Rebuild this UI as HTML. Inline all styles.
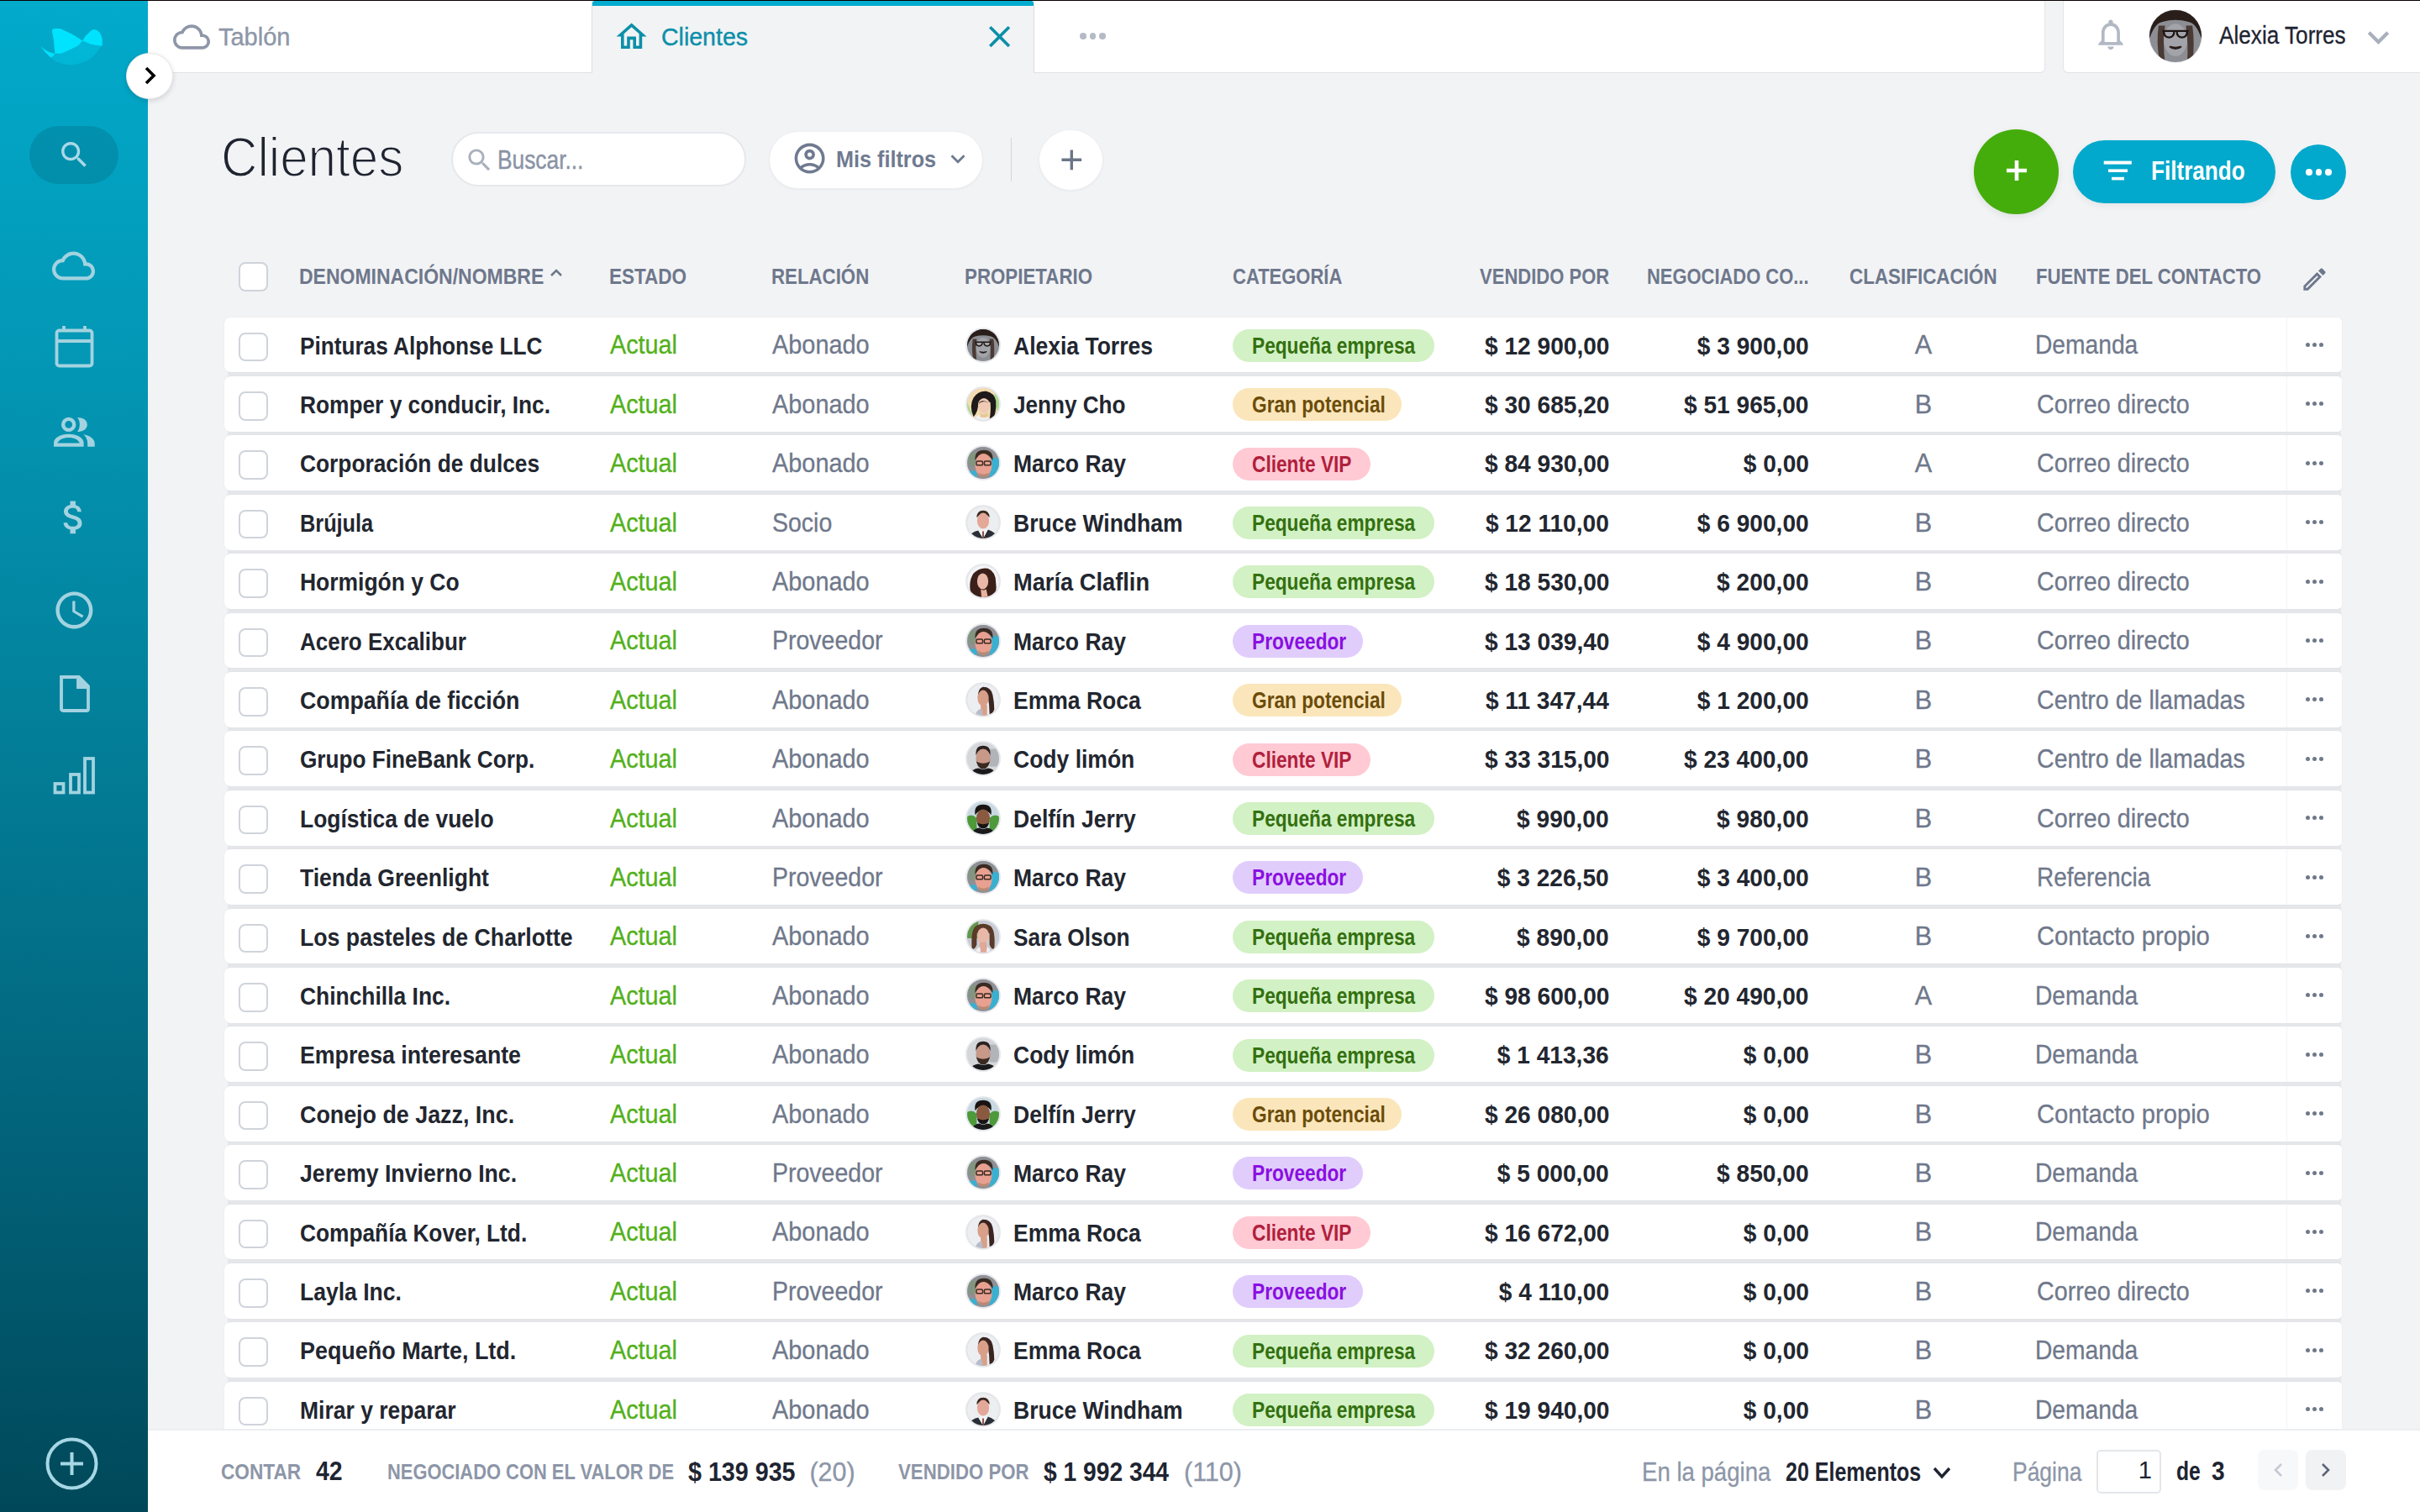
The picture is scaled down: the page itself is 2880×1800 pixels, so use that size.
<!DOCTYPE html>
<html><head><meta charset="utf-8"><title>Clientes</title>
<style>
*{box-sizing:border-box;margin:0;padding:0}
html,body{width:2880px;height:1800px;overflow:hidden}
body{background:#f2f3f5;font-family:"Liberation Sans",sans-serif;position:relative;color:#1e2431}
.a{position:absolute}
.sx{display:inline-block;white-space:nowrap}
#topline{left:0;top:0;width:2880px;height:1px;background:#0a0000;z-index:50}
#side{left:0;top:0;width:176px;height:1800px;background:linear-gradient(180deg,#02aacb 0%,#0396b4 25%,#037d97 50%,#02637a 75%,#004859 100%)}
.sic{position:absolute;left:0;width:176px;display:flex;justify-content:center}
.sic svg{display:block}
#toggle{left:150px;top:62.5px;width:55.5px;height:55.5px;border-radius:50%;background:#fff;border:1px solid #e6e7ea;box-shadow:0 2px 6px rgba(0,0,0,0.14);z-index:20}
/* tabs */
.tabw{background:#fff;border-bottom:1.5px solid #dfe2e6}
#tab1{left:176px;top:1px;width:529px;height:86px}
#tab2{left:704px;top:1px;width:527px;height:86px;background:#f2f3f5;border-left:1.5px solid #dcdde2;border-right:1.5px solid #dcdde2;border-radius:4px 4px 0 0}
#tab2bar{left:705px;top:1px;width:525px;height:6px;background:#02abcf;border-radius:3px 3px 0 0}
#tab3{left:1231px;top:1px;width:1203px;height:86px;border-bottom-right-radius:6px;border-right:1.5px solid #e2e4e8}
#tab4{left:2455px;top:1px;width:425px;height:86px;border-bottom-left-radius:6px;border-left:1.5px solid #e2e4e8}
.tabtxt{font-size:29.8px;line-height:34px;white-space:nowrap;-webkit-text-stroke:0.4px currentColor}
/* title row */
#title{left:263px;top:149px;font-size:66.9px;line-height:76px;color:#1f2430;-webkit-text-stroke:1.8px #f2f3f5;paint-order:normal;letter-spacing:0px}
.pill{background:#fff;border-radius:40px}
#search{left:537px;top:157px;width:351px;height:65px;border:2px solid #e6e8ec}
#mis{left:916px;top:157px;width:253px;height:67px;box-shadow:0 1px 4px rgba(30,40,60,0.06)}
#sep{left:1202.5px;top:164px;width:1.5px;height:52px;background:#d3d6dc}
#plus{left:1236.5px;top:155px;width:75px;height:71px;border-radius:50%;background:#fff;box-shadow:0 1px 4px rgba(30,40,60,0.06)}
#green{left:2349px;top:154px;width:101px;height:101px;border-radius:50%;background:#44ad0b;box-shadow:0 3px 8px rgba(0,0,0,0.08)}
#filt{left:2467px;top:167px;width:241px;height:75px;border-radius:38px;background:#02a9cc;box-shadow:0 3px 8px rgba(0,0,0,0.06)}
#more{left:2726px;top:172px;width:66px;height:66px;border-radius:50%;background:#02a9cc}
/* table header */
.hd{position:absolute;top:317.3px;font-size:26.2px;font-weight:700;color:#6e788c;line-height:24px;white-space:nowrap}
.cb{position:absolute;width:34.5px;height:34.5px;border:2px solid #cfd4db;border-radius:8px;background:#fff}
#tbg{left:271px;top:390px;width:2515px;height:1320px;background:#e5e7ea;border-radius:0 0 4px 0}
.row{position:absolute;left:267px;width:2520px;height:65.8px;background:#fff;border-radius:8px 5px 5px 8px;box-shadow:0 0 3px rgba(40,50,70,0.035)}
.c{position:absolute;top:1px;height:65.8px;line-height:65.8px;font-size:30.2px;white-space:nowrap}
.reg{font-size:30.7px;top:0.8px;-webkit-text-stroke:0.3px currentColor}
.name{font-weight:700;color:#22262f}
.actual{color:#52b01a}
.gray{color:#6f788b}
.num{font-weight:700;color:#22262f}
.ctr{text-align:center}
.av{position:absolute;top:12px;width:42px;height:42px;border-radius:50%;overflow:hidden;border:2px solid #e6e8ec;background:#ccc}
.av svg{width:100%;height:100%;display:block}
.tag{position:absolute;top:14.3px;height:39px;border-radius:20px;padding:0 23px;font-size:27px;font-weight:700;line-height:40.5px;white-space:nowrap}
.tag span{display:inline-block;transform-origin:left}
.peq{background:#d2f1c4;color:#33700f;width:240px}
.gran{background:#fbe6bb;color:#6b4c0a;width:201px}
.vip{background:#ffcad4;color:#b0203c;width:164px}
.prov{background:#e0cdfc;color:#8a0fe0;width:155px}
.dots{position:absolute;left:2454px;top:0;width:66px;height:65.8px;border-left:1px solid #f3f4f6;display:flex;justify-content:center;align-items:center;gap:3px}
.dots i{display:block;width:5px;height:5px;border-radius:50%;background:#6f788b}
/* footer */
#foot{left:176px;top:1701px;width:2704px;height:99px;background:#fff;border-top:2px solid #eceef1;z-index:10}
.ft{position:absolute;white-space:nowrap}
.fl{font-size:26.2px;font-weight:700;color:#8d96a8}
.fv{font-size:30.5px;font-weight:700;color:#1e2431}
.fg{font-size:30.5px;color:#8d96a8;-webkit-text-stroke:0.3px currentColor}
</style></head><body>
<div id="topline" class="a"></div>
<div id="side" class="a">
  <svg class="a" style="left:44px;top:30px" width="82" height="50" viewBox="44 30 82 50">
    <defs><pattern id="dp" x="0" y="0" width="2" height="2" patternUnits="userSpaceOnUse"><rect x="0.5" y="0.5" width="1" height="1" fill="#00e3ff"/></pattern>
    <clipPath id="dc"><path d="M60 68 Q66 64 74 63.5 Q84 60 92.8 54.4 L98.3 48.4 Q104 51 107.5 52.4 Q112 54 120 55 Q114 66 104 72 Q92 78 80 77 Q68 76 60 68Z"/></clipPath></defs>
    <rect x="56" y="46" width="66" height="34" fill="url(#dp)" clip-path="url(#dc)"/>
    <path d="M61.8 36.9 Q62.5 34 65.4 34.1 L71.7 34.1 Q86 40 98.3 48.4 Q95 52 92.8 54.4 Q82 60 73.7 63.5 L65.4 63.9 Q64.5 55 63.8 46.8 Z" fill="#00e3ff"/>
    <path d="M47.9 54.2 Q55 62 65.4 63.9 L66 64 L60.6 68.8 Q53 62 47.9 54.2Z" fill="#00e3ff"/>
    <path d="M98.3 48.4 Q102 42 106.7 38.1 Q109 35 112.2 34.9 Q120 36 121.7 46.4 L121.7 54.8 Q114 54 107.5 52.4 Z" fill="#00e3ff"/>
  </svg>
  <div class="a" style="left:35px;top:150px;width:106px;height:69px;border-radius:35px;background:rgba(0,60,80,0.18)"></div>
  <svg class="a" style="left:67.8px;top:163.8px" width="40.8" height="40.8" viewBox="0 0 24 24"><path fill="#a9d9e6" d="M15.5 14h-.79l-.28-.27C15.41 12.59 16 11.11 16 9.5 16 5.91 13.09 3 9.5 3S3 5.91 3 9.5 5.91 16 9.5 16c1.61 0 3.09-.59 4.23-1.57l.27.28v.79l5 4.99L20.49 19l-4.99-5zm-6 0C7.01 14 5 11.99 5 9.5S7.01 5 9.5 5 14 7.01 14 9.5 11.99 14 9.5 14z"/></svg>
  <!-- nav icons -->
  <svg class="a" style="left:62.4px;top:290.5px" width="51" height="51" viewBox="0 0 24 24"><path fill="#a3d3e0" d="M19.35 10.04C18.67 6.59 15.64 4 12 4 9.11 4 6.6 5.64 5.35 8.04 2.34 8.36 0 10.91 0 14c0 3.31 2.69 6 6 6h13c2.76 0 5-2.24 5-5 0-2.64-2.05-4.78-4.650-4.96zM19 18H6c-2.21 0-4-1.79-4-4s1.79-4 4-4h.71C7.37 7.69 9.48 6 12 6c3.04 0 5.5 2.46 5.5 5.5v.5H19c1.66 0 3 1.34 3 3s-1.34 3-3 3z"/></svg>
  <svg class="a" style="left:65px;top:387px" width="47" height="51" viewBox="0 0 47 51" fill="none" stroke="#a3d3e0" stroke-width="3.8"><rect x="2.5" y="6.5" width="42" height="42" rx="3"/><path d="M2.5 19 H44.5 M11 1 V8 M36 1 V8"/></svg>
  <svg class="a" style="left:60px;top:490px" width="56" height="46" viewBox="60 490 56 46"><circle cx="81.7" cy="505.4" r="6.5" fill="none" stroke="#a3d3e0" stroke-width="4.3"/><path fill="#a3d3e0" d="M92 497 C100 497 103.8 501 103.8 505.5 C103.8 510 100 514 92 514 C95.5 510 96 501 92 497Z"/><path fill="#a3d3e0" fill-rule="evenodd" d="M64 531.8 V527 C64 521 72 516.7 81.8 516.7 C91.6 516.7 99.6 521 99.6 527 V531.8 Z M68.3 527.6 C70 523.5 75 520.9 81.8 520.9 C88.6 520.9 93.5 523.5 94.8 527.6 Z"/><path fill="#a3d3e0" d="M99.2 517 C106 518.5 112.7 522 112.7 528 V531.8 H104.2 V528 C104.2 523 102 519.5 99.2 517Z"/></svg>
  <svg class="a" style="left:62px;top:589.5px" width="51.6" height="51.6" viewBox="0 0 24 24"><path fill="#a3d3e0" d="M11.8 10.9c-2.27-.59-3-1.2-3-2.15 0-1.09 1.01-1.85 2.7-1.85 1.78 0 2.44.85 2.5 2.1h2.21c-.07-1.72-1.12-3.3-3.21-3.81V3h-3v2.16c-1.94.42-3.5 1.68-3.5 3.61 0 2.310 1.91 3.46 4.7 4.13 2.5.6 3 1.48 3 2.41 0 .69-.49 1.79-2.7 1.79-2.060 0-2.87-.92-2.98-2.1h-2.2c.12 2.19 1.76 3.42 3.68 3.83V21h3v-2.15c1.95-.37 3.5-1.5 3.5-3.55 0-2.84-2.43-3.81-4.7-4.4z"/></svg>
  <svg class="a" style="left:62px;top:699.6px" width="52.8" height="52.8" viewBox="0 0 24 24"><path fill="#a3d3e0" d="M11.99 2C6.47 2 2 6.48 2 12s4.47 10 9.99 10C17.52 22 22 17.52 22 12S17.52 2 11.99 2zM12 20c-4.42 0-8-3.58-8-8s3.58-8 8-8 8 3.58 8 8-3.58 8-8 8zm.5-13H11v6l5.25 3.15.75-1.23-4.5-2.67z"/></svg>
  <svg class="a" style="left:70px;top:803px" width="38" height="46" viewBox="0 0 38 46" fill="none" stroke="#a3d3e0" stroke-width="3.8"><path d="M3 3 H24 L35 14 V41 Q35 43 33 43 H5 Q3 43 3 41Z"/><path d="M23 3 V15 H35" fill="#a3d3e0"/></svg>
  <svg class="a" style="left:63px;top:900px" width="52" height="46" viewBox="0 0 52 46" fill="none" stroke="#a3d3e0" stroke-width="3.8"><rect x="2.5" y="33" width="10" height="10.5"/><rect x="21" y="22" width="10" height="21.5"/><rect x="38" y="3" width="10" height="40.5"/></svg>
  <svg class="a" style="left:54px;top:1711px" width="63" height="63" viewBox="0 0 63 63" fill="none" stroke="#a6d7e5" stroke-width="4"><circle cx="31.5" cy="31.5" r="29"/><path d="M31.5 18 V45 M18 31.5 H45"/></svg>
</div>
<div id="toggle" class="a"><svg class="a" style="left:19.5px;top:15.5px" width="16" height="22" viewBox="0 0 16 22" fill="none" stroke="#000" stroke-width="3.6"><path d="M3 2 L12 11 L3 20"/></svg></div>

<!-- tabs -->
<div id="tab1" class="a tabw">
  <svg class="a" style="left:30.2px;top:20.8px" width="44" height="44" viewBox="0 0 24 24"><path fill="#8e97a8" d="M19.35 10.04C18.67 6.59 15.64 4 12 4 9.11 4 6.6 5.64 5.35 8.04 2.34 8.36 0 10.91 0 14c0 3.31 2.69 6 6 6h13c2.76 0 5-2.24 5-5 0-2.64-2.05-4.78-4.650-4.96zM19 18H6c-2.21 0-4-1.79-4-4s1.79-4 4-4h.71C7.37 7.69 9.48 6 12 6c3.04 0 5.5 2.46 5.5 5.5v.5H19c1.66 0 3 1.34 3 3s-1.34 3-3 3z"/></svg>
  <div class="a tabtxt" style="left:84px;top:26px;color:#8e97a8"><span class="sx" style="transform:scaleX(0.973);transform-origin:left">Tablón</span></div>
</div>
<div id="tab2" class="a">
  <svg class="a" style="left:24.8px;top:21px" width="43.2" height="43.2" viewBox="0 0 24 24"><path fill="#0c8fa9" d="M12 5.69l5 4.5V18h-2v-6H9v6H7v-7.81l5-4.5M12 3L2 12h3v8h6v-6h2v6h6v-8h3L12 3z"/></svg>
  <div class="a tabtxt" style="left:82px;top:26px;color:#0c8fa9"><span class="sx" style="transform:scaleX(0.957);transform-origin:left">Clientes</span></div>
  <svg class="a" style="left:462.5px;top:21px" width="43.2" height="43.2" viewBox="0 0 24 24"><path fill="#0c8fa9" d="M19 6.41L17.59 5 12 10.59 6.41 5 5 6.41 10.59 12 5 17.59 6.41 19 12 13.41 17.59 19 19 17.59 13.41 12z"/></svg>
</div>
<div id="tab2bar" class="a"></div>
<div id="tab3" class="a tabw">
  <div class="a" style="left:54px;top:38px;display:flex;gap:4px"><i style="display:block;width:7.5px;height:7.5px;border-radius:50%;background:#b5bbc6"></i><i style="display:block;width:7.5px;height:7.5px;border-radius:50%;background:#b5bbc6"></i><i style="display:block;width:7.5px;height:7.5px;border-radius:50%;background:#b5bbc6"></i></div>
</div>
<div id="tab4" class="a tabw">
  <svg class="a" style="left:33.8px;top:18.4px" width="43.9" height="43.9" viewBox="0 0 24 24"><path fill="#b3b9c4" d="M12 22c1.1 0 2-.9 2-2h-4c0 1.1.89 2 2 2zm6-6v-5c0-3.07-1.64-5.64-4.5-6.32V4c0-.83-.67-1.5-1.5-1.5s-1.5.67-1.5 1.5v.68C7.63 5.36 6 7.92 6 11v5l-2 2v1h16v-1l-2-2zm-2 1H8v-6c0-2.48 1.51-4.5 4-4.5s4 2.02 4 4.5v6z"/></svg>
  <div class="a" style="left:100.5px;top:10px;width:64px;height:64px;border-radius:50%;overflow:hidden;border:1.5px solid #eceef2"><svg style="width:100%;height:100%;display:block" viewBox="0 0 40 40"><rect width="40" height="40" fill="#8c8e94"/><path d="M0 0 H40 V22 Q36 10 30 9 Q20 6 10 9 Q4 10 0 22 Z" fill="#2a1e1a"/><path d="M7 12 Q5 26 8 40 L12 40 Q10 26 12 12Z" fill="#4a3a34"/><path d="M28 12 Q30 26 29 40 L33 40 Q35 26 33 12Z" fill="#4a3a34"/><ellipse cx="20" cy="23" rx="9" ry="12.5" fill="#a2a4aa"/><path d="M10 16 H30 M11 16 Q11 21 15 21 Q19 21 19 16 M21 16 Q21 21 25 21 Q29 21 29 16" stroke="#1e1614" stroke-width="1.5" fill="none"/><path d="M15.5 28 Q20 31.5 24.5 28 Q20 29.5 15.5 28Z" fill="#2a1e1a" stroke="#2a1e1a" stroke-width="1.2"/></svg></div>
  <div class="a" style="left:185px;top:24px;font-size:29.1px;line-height:34px;color:#1e2431;white-space:nowrap;-webkit-text-stroke:0.3px currentColor"><span class="sx" style="transform:scaleX(0.899);transform-origin:left">Alexia Torres</span></div>
  <svg class="a" style="left:349.25px;top:18.45px" width="51" height="51" viewBox="0 0 24 24"><path fill="#a9b0bc" d="M16.59 8.59L12 13.17 7.41 8.59 6 10l6 6 6-6z"/></svg>
</div>

<!-- title row -->
<div id="title" class="a"><span class="sx" style="transform:scaleX(0.899);transform-origin:left">Clientes</span></div>
<div id="search" class="a pill">
  <svg class="a" style="left:13.6px;top:14.2px" width="35.3" height="35.3" viewBox="0 0 24 24"><path fill="#a9b0bc" d="M15.5 14h-.79l-.28-.27C15.41 12.59 16 11.11 16 9.5 16 5.91 13.09 3 9.5 3S3 5.91 3 9.5 5.91 16 9.5 16c1.61 0 3.09-.59 4.23-1.57l.27.28v.79l5 4.99L20.49 19l-4.99-5zm-6 0C7.01 14 5 11.99 5 9.5S7.01 5 9.5 5 14 7.01 14 9.5 11.99 14 9.5 14z"/></svg>
  <div class="a" style="left:52.5px;top:13.5px;font-size:30.5px;line-height:34px;color:#8a93a5;white-space:nowrap;-webkit-text-stroke:0.4px currentColor"><span class="sx" style="transform:scaleX(0.863);transform-origin:left">Buscar...</span></div>
</div>
<div id="mis" class="a pill">
  <svg class="a" style="left:26.2px;top:10.4px" width="43.2" height="43.2" viewBox="0 0 24 24"><path fill="#6f7a90" d="M12 2C6.48 2 2 6.48 2 12s4.48 10 10 10 10-4.48 10-10S17.52 2 12 2zM7.35 18.5C8.66 17.56 10.26 17 12 17s3.34.56 4.65 1.5c-1.31.94-2.91 1.5-4.65 1.5s-3.34-.56-4.65-1.5zm10.79-1.38C16.45 15.8 14.32 15 12 15s-4.45.8-6.14 2.120C4.7 15.73 4 13.95 4 12c0-4.42 3.58-8 8-8s8 3.58 8 8c0 1.95-.7 3.73-1.86 5.12zM12 6c-1.93 0-3.5 1.57-3.5 3.5S10.07 13 12 13s3.5-1.57 3.5-3.5S13.93 6 12 6zm0 5c-.83 0-1.5-.67-1.5-1.5S11.17 8 12 8s1.5.67 1.5 1.5S12.83 11 12 11z"/></svg>
  <div class="a" style="left:79px;top:14.5px;font-size:28.3px;line-height:34px;font-weight:700;color:#6f7a90;white-space:nowrap"><span class="sx" style="transform:scaleX(0.891);transform-origin:left">Mis filtros</span></div>
  <svg class="a" style="left:206.5px;top:15.3px" width="34" height="34" viewBox="0 0 24 24"><path fill="#6f7a90" d="M16.59 8.59L12 13.17 7.41 8.59 6 10l6 6 6-6z"/></svg>
</div>
<div id="sep" class="a"></div>
<div id="plus" class="a"><svg class="a" style="left:18.25px;top:15.35px" width="40.6" height="40.6" viewBox="0 0 24 24"><path fill="#6b7588" d="M19 13h-6v6h-2v-6H5v-2h6V5h2v6h6v2z"/></svg></div>
<div id="green" class="a"><svg class="a" style="left:38.5px;top:37.4px" width="24" height="24" viewBox="0 0 24 24" stroke="#fff" stroke-width="4.6"><path d="M12 0 V24 M0 12 H24"/></svg></div>
<div id="filt" class="a">
  <svg class="a" style="left:36px;top:24px" width="35" height="25" viewBox="0 0 35 25"><rect x="0.7" y="0.6" width="33.1" height="4" fill="#fff"/><rect x="6" y="10.4" width="23" height="3.6" fill="#fff"/><rect x="10" y="19.8" width="15" height="3.6" fill="#fff"/></svg>
  <div class="a" style="left:93px;top:19px;font-size:30.5px;line-height:34px;font-weight:700;color:#fff;white-space:nowrap"><span class="sx" style="transform:scaleX(0.856);transform-origin:left">Filtrando</span></div>
</div>
<div id="more" class="a"><div class="a" style="left:18px;top:29px;display:flex;gap:4px"><i style="display:block;width:7.5px;height:7.5px;border-radius:50%;background:#fff"></i><i style="display:block;width:7.5px;height:7.5px;border-radius:50%;background:#fff"></i><i style="display:block;width:7.5px;height:7.5px;border-radius:50%;background:#fff"></i></div></div>

<!-- table header -->
<div class="cb" style="left:284px;top:312px;background:#fff"></div>
<div class="hd" style="left:355.7px"><span class="sx " style="transform:scaleX(0.878);transform-origin:left">DENOMINACIÓN/NOMBRE</span><svg style="position:absolute;left:298px;top:2px" width="16" height="12" viewBox="0 0 16 12" fill="none" stroke="#6e788c" stroke-width="2.6"><path d="M2 9 L8 3 L14 9"/></svg></div>
<div class="hd" style="left:725px"><span class="sx " style="transform:scaleX(0.859);transform-origin:left">ESTADO</span></div>
<div class="hd" style="left:918px"><span class="sx " style="transform:scaleX(0.85);transform-origin:left">RELACIÓN</span></div>
<div class="hd" style="left:1148px"><span class="sx " style="transform:scaleX(0.852);transform-origin:left">PROPIETARIO</span></div>
<div class="hd" style="left:1466.7px"><span class="sx " style="transform:scaleX(0.84);transform-origin:left">CATEGORÍA</span></div>
<div class="hd" style="left:1761px"><span class="sx " style="transform:scaleX(0.841);transform-origin:left">VENDIDO POR</span></div>
<div class="hd" style="left:1960px"><span class="sx " style="transform:scaleX(0.8376);transform-origin:left">NEGOCIADO CO...</span></div>
<div class="hd" style="left:2201px"><span class="sx " style="transform:scaleX(0.856);transform-origin:left">CLASIFICACIÓN</span></div>
<div class="hd" style="left:2423.2px"><span class="sx " style="transform:scaleX(0.845);transform-origin:left">FUENTE DEL CONTACTO</span></div>
<svg class="a" style="left:2737px;top:315px" width="35" height="35" viewBox="0 0 24 24"><path fill="#6e788c" d="M3 17.25V21h3.75L17.81 9.94l-3.75-3.75L3 17.25zM5.92 19H5v-.92l9.06-9.06.92.92L5.92 19zM20.71 5.63l-2.34-2.34c-.2-.2-.45-.29-.71-.29s-.51.1-.7.29l-1.83 1.83 3.75 3.75 1.83-1.83c.39-.39.39-1.02 0-1.41z"/></svg>

<div id="tbg" class="a"></div>
<div class="row" style="top:377.60px">
<div class="cb" style="left:17px;top:18px"></div>
<div class="c name" style="left:90px"><span class="sx " style="transform:scaleX(0.8668);transform-origin:left">Pinturas Alphonse LLC</span></div>
<div class="c reg actual" style="left:459px"><span class="sx " style="transform:scaleX(0.938);transform-origin:left">Actual</span></div>
<div class="c reg gray" style="left:652px"><span class="sx " style="transform:scaleX(0.941);transform-origin:left">Abonado</span></div>
<div class="av" style="left:882px"><svg viewBox="0 0 40 40"><rect width="40" height="40" fill="#8c8e94"/><path d="M0 0 H40 V22 Q36 10 30 9 Q20 6 10 9 Q4 10 0 22 Z" fill="#2a1e1a"/><path d="M7 12 Q5 26 8 40 L12 40 Q10 26 12 12Z" fill="#4a3a34"/><path d="M28 12 Q30 26 29 40 L33 40 Q35 26 33 12Z" fill="#4a3a34"/><ellipse cx="20" cy="23" rx="9" ry="12.5" fill="#a2a4aa"/><path d="M10 16 H30 M11 16 Q11 21 15 21 Q19 21 19 16 M21 16 Q21 21 25 21 Q29 21 29 16" stroke="#1e1614" stroke-width="1.5" fill="none"/><path d="M15.5 28 Q20 31.5 24.5 28 Q20 29.5 15.5 28Z" fill="#2a1e1a" stroke="#2a1e1a" stroke-width="1.2"/></svg></div>
<div class="c name" style="left:939px"><span class="sx " style="transform:scaleX(0.878);transform-origin:left">Alexia Torres</span></div>
<div class="tag peq" style="left:1200px"><span style="transform:scaleX(0.84)">Pequeña empresa</span></div>
<div class="c num r" style="right:872px"><span class="sx " style="transform:scaleX(0.931);transform-origin:right">$ 12 900,00</span></div>
<div class="c num r" style="right:634.3px"><span class="sx " style="transform:scaleX(0.931);transform-origin:right">$ 3 900,00</span></div>
<div class="c reg gray ctr" style="left:1972px;width:100px">A</div>
<div class="c reg gray" style="left:2155.2px"><span class="sx " style="transform:scaleX(0.919);transform-origin:left">Demanda</span></div>
<div class="dots"><i></i><i></i><i></i></div>
</div>
<div class="row" style="top:448.00px">
<div class="cb" style="left:17px;top:18px"></div>
<div class="c name" style="left:90px"><span class="sx " style="transform:scaleX(0.8709);transform-origin:left">Romper y conducir, Inc.</span></div>
<div class="c reg actual" style="left:459px"><span class="sx " style="transform:scaleX(0.938);transform-origin:left">Actual</span></div>
<div class="c reg gray" style="left:652px"><span class="sx " style="transform:scaleX(0.941);transform-origin:left">Abonado</span></div>
<div class="av" style="left:882px"><svg viewBox="0 0 40 40"><rect width="40" height="40" fill="#f3dcb0"/><path d="M0 18 Q4 26 8 40 H0Z M34 8 L40 8 V30 Q36 28 34 20Z" fill="#a8da8c"/><path d="M8 36 Q2 22 8 12 Q14 3 24 4 Q34 6 36 16 Q37 30 32 40 H28 Q30 28 29 18 Q22 14 14 18 Q14 30 8 36Z" fill="#1e1a1a"/><ellipse cx="21" cy="22" rx="7.5" ry="9.5" fill="#efcab4"/><path d="M14 20 Q20 14 28 19 Q24 16 20 16 Q16 16 14 20Z" fill="#1e1a1a"/><path d="M8 40 Q12 33 20 32 Q26 33 28 40Z" fill="#f0f0f4"/><path d="M16 31 Q20 34 26 31 L26 36 Q20 38 16 36Z" fill="#e8c898"/></svg></div>
<div class="c name" style="left:939px"><span class="sx " style="transform:scaleX(0.865);transform-origin:left">Jenny Cho</span></div>
<div class="tag gran" style="left:1200px"><span style="transform:scaleX(0.84)">Gran potencial</span></div>
<div class="c num r" style="right:872px"><span class="sx " style="transform:scaleX(0.931);transform-origin:right">$ 30 685,20</span></div>
<div class="c num r" style="right:634.3px"><span class="sx " style="transform:scaleX(0.931);transform-origin:right">$ 51 965,00</span></div>
<div class="c reg gray ctr" style="left:1972px;width:100px">B</div>
<div class="c reg gray" style="left:2157.2px"><span class="sx " style="transform:scaleX(0.935);transform-origin:left">Correo directo</span></div>
<div class="dots"><i></i><i></i><i></i></div>
</div>
<div class="row" style="top:518.40px">
<div class="cb" style="left:17px;top:18px"></div>
<div class="c name" style="left:90px"><span class="sx " style="transform:scaleX(0.8716);transform-origin:left">Corporación de dulces</span></div>
<div class="c reg actual" style="left:459px"><span class="sx " style="transform:scaleX(0.938);transform-origin:left">Actual</span></div>
<div class="c reg gray" style="left:652px"><span class="sx " style="transform:scaleX(0.941);transform-origin:left">Abonado</span></div>
<div class="av" style="left:882px"><svg viewBox="0 0 40 40"><rect width="40" height="40" fill="#8e9096"/><path d="M2 8 Q8 5 12 9 L11 24 Q6 26 2 22Z" fill="#7a9a70" opacity="0.6"/><path d="M0 30 H12 V40 H0Z M31 14 H40 V40 H28Z" fill="#3ab0d0"/><path d="M10 17 Q9 4 21 4 Q33 4 32 17 Q28 9 21 10 Q13 10 10 17Z" fill="#3a2a22"/><ellipse cx="20.5" cy="23" rx="10.5" ry="14.5" fill="#e8a090"/><rect x="11.5" y="18" width="8" height="5" rx="1.5" fill="none" stroke="#3a2a22" stroke-width="1.6"/><rect x="21.5" y="18" width="8" height="5" rx="1.5" fill="none" stroke="#3a2a22" stroke-width="1.6"/><path d="M14 32 Q20.5 37 27 32 Q27 36 20.5 38 Q14 36 14 32Z" fill="#b88870"/></svg></div>
<div class="c name" style="left:939px"><span class="sx " style="transform:scaleX(0.878);transform-origin:left">Marco Ray</span></div>
<div class="tag vip" style="left:1200px"><span style="transform:scaleX(0.84)">Cliente VIP</span></div>
<div class="c num r" style="right:872px"><span class="sx " style="transform:scaleX(0.931);transform-origin:right">$ 84 930,00</span></div>
<div class="c num r" style="right:634.3px"><span class="sx " style="transform:scaleX(0.931);transform-origin:right">$ 0,00</span></div>
<div class="c reg gray ctr" style="left:1972px;width:100px">A</div>
<div class="c reg gray" style="left:2157.2px"><span class="sx " style="transform:scaleX(0.935);transform-origin:left">Correo directo</span></div>
<div class="dots"><i></i><i></i><i></i></div>
</div>
<div class="row" style="top:588.80px">
<div class="cb" style="left:17px;top:18px"></div>
<div class="c name" style="left:90px"><span class="sx " style="transform:scaleX(0.8384);transform-origin:left">Brújula</span></div>
<div class="c reg actual" style="left:459px"><span class="sx " style="transform:scaleX(0.938);transform-origin:left">Actual</span></div>
<div class="c reg gray" style="left:652px"><span class="sx " style="transform:scaleX(0.929);transform-origin:left">Socio</span></div>
<div class="av" style="left:882px"><svg viewBox="0 0 40 40"><rect width="40" height="40" fill="#eceef0"/><path d="M12 14 Q12 5 20 5 Q28 5 28 14 Q24 9 20 10 Q15 10 12 14Z" fill="#3a2820"/><ellipse cx="20" cy="18" rx="7.5" ry="10" fill="#e4a898"/><path d="M2 40 Q4 32 14 30 L20 40Z M38 40 Q36 32 26 29 L20 40Z" fill="#2a2e36"/><path d="M14 30 L20 40 L26 29 Q20 27 14 30Z" fill="#f2f2f4"/><path d="M19 31 L21 31 L21 40 L19 40Z" fill="#8a4a3a"/></svg></div>
<div class="c name" style="left:939px"><span class="sx " style="transform:scaleX(0.878);transform-origin:left">Bruce Windham</span></div>
<div class="tag peq" style="left:1200px"><span style="transform:scaleX(0.84)">Pequeña empresa</span></div>
<div class="c num r" style="right:872px"><span class="sx " style="transform:scaleX(0.931);transform-origin:right">$ 12 110,00</span></div>
<div class="c num r" style="right:634.3px"><span class="sx " style="transform:scaleX(0.931);transform-origin:right">$ 6 900,00</span></div>
<div class="c reg gray ctr" style="left:1972px;width:100px">B</div>
<div class="c reg gray" style="left:2157.2px"><span class="sx " style="transform:scaleX(0.935);transform-origin:left">Correo directo</span></div>
<div class="dots"><i></i><i></i><i></i></div>
</div>
<div class="row" style="top:659.20px">
<div class="cb" style="left:17px;top:18px"></div>
<div class="c name" style="left:90px"><span class="sx " style="transform:scaleX(0.8766);transform-origin:left">Hormigón y Co</span></div>
<div class="c reg actual" style="left:459px"><span class="sx " style="transform:scaleX(0.938);transform-origin:left">Actual</span></div>
<div class="c reg gray" style="left:652px"><span class="sx " style="transform:scaleX(0.941);transform-origin:left">Abonado</span></div>
<div class="av" style="left:882px"><svg viewBox="0 0 40 40"><rect width="40" height="40" fill="#f4f4f6"/><path d="M6 40 Q0 22 8 10 Q16 2 26 4 Q36 8 36 22 Q38 34 32 40Z" fill="#3a2018"/><ellipse cx="19.5" cy="20" rx="7" ry="10" fill="#eab8a8"/><path d="M17 30 Q20 32 24 30 L26 40 H18Z" fill="#e8b0a0"/></svg></div>
<div class="c name" style="left:939px"><span class="sx " style="transform:scaleX(0.903);transform-origin:left">María Claflin</span></div>
<div class="tag peq" style="left:1200px"><span style="transform:scaleX(0.84)">Pequeña empresa</span></div>
<div class="c num r" style="right:872px"><span class="sx " style="transform:scaleX(0.931);transform-origin:right">$ 18 530,00</span></div>
<div class="c num r" style="right:634.3px"><span class="sx " style="transform:scaleX(0.931);transform-origin:right">$ 200,00</span></div>
<div class="c reg gray ctr" style="left:1972px;width:100px">B</div>
<div class="c reg gray" style="left:2157.2px"><span class="sx " style="transform:scaleX(0.935);transform-origin:left">Correo directo</span></div>
<div class="dots"><i></i><i></i><i></i></div>
</div>
<div class="row" style="top:729.60px">
<div class="cb" style="left:17px;top:18px"></div>
<div class="c name" style="left:90px"><span class="sx " style="transform:scaleX(0.861);transform-origin:left">Acero Excalibur</span></div>
<div class="c reg actual" style="left:459px"><span class="sx " style="transform:scaleX(0.938);transform-origin:left">Actual</span></div>
<div class="c reg gray" style="left:652px"><span class="sx " style="transform:scaleX(0.929);transform-origin:left">Proveedor</span></div>
<div class="av" style="left:882px"><svg viewBox="0 0 40 40"><rect width="40" height="40" fill="#8e9096"/><path d="M2 8 Q8 5 12 9 L11 24 Q6 26 2 22Z" fill="#7a9a70" opacity="0.6"/><path d="M0 30 H12 V40 H0Z M31 14 H40 V40 H28Z" fill="#3ab0d0"/><path d="M10 17 Q9 4 21 4 Q33 4 32 17 Q28 9 21 10 Q13 10 10 17Z" fill="#3a2a22"/><ellipse cx="20.5" cy="23" rx="10.5" ry="14.5" fill="#e8a090"/><rect x="11.5" y="18" width="8" height="5" rx="1.5" fill="none" stroke="#3a2a22" stroke-width="1.6"/><rect x="21.5" y="18" width="8" height="5" rx="1.5" fill="none" stroke="#3a2a22" stroke-width="1.6"/><path d="M14 32 Q20.5 37 27 32 Q27 36 20.5 38 Q14 36 14 32Z" fill="#b88870"/></svg></div>
<div class="c name" style="left:939px"><span class="sx " style="transform:scaleX(0.878);transform-origin:left">Marco Ray</span></div>
<div class="tag prov" style="left:1200px"><span style="transform:scaleX(0.84)">Proveedor</span></div>
<div class="c num r" style="right:872px"><span class="sx " style="transform:scaleX(0.931);transform-origin:right">$ 13 039,40</span></div>
<div class="c num r" style="right:634.3px"><span class="sx " style="transform:scaleX(0.931);transform-origin:right">$ 4 900,00</span></div>
<div class="c reg gray ctr" style="left:1972px;width:100px">B</div>
<div class="c reg gray" style="left:2157.2px"><span class="sx " style="transform:scaleX(0.935);transform-origin:left">Correo directo</span></div>
<div class="dots"><i></i><i></i><i></i></div>
</div>
<div class="row" style="top:800.00px">
<div class="cb" style="left:17px;top:18px"></div>
<div class="c name" style="left:90px"><span class="sx " style="transform:scaleX(0.8855);transform-origin:left">Compañía de ficción</span></div>
<div class="c reg actual" style="left:459px"><span class="sx " style="transform:scaleX(0.938);transform-origin:left">Actual</span></div>
<div class="c reg gray" style="left:652px"><span class="sx " style="transform:scaleX(0.941);transform-origin:left">Abonado</span></div>
<div class="av" style="left:882px"><svg viewBox="0 0 40 40"><rect width="40" height="40" fill="#eceef2"/><path d="M14 22 Q12 6 20 4 Q30 4 32 14 Q34 24 34 32 Q32 38 28 38 Q28 26 26 16 Q20 12 16 16Z" fill="#3a2420"/><ellipse cx="20" cy="18" rx="7" ry="10" fill="#d8a088"/><path d="M17 26 H25 V40 H17Z" fill="#d8a088"/><path d="M10 40 Q12 32 18 31 L20 40Z" fill="#b8bcc8"/></svg></div>
<div class="c name" style="left:939px"><span class="sx " style="transform:scaleX(0.878);transform-origin:left">Emma Roca</span></div>
<div class="tag gran" style="left:1200px"><span style="transform:scaleX(0.84)">Gran potencial</span></div>
<div class="c num r" style="right:872px"><span class="sx " style="transform:scaleX(0.931);transform-origin:right">$ 11 347,44</span></div>
<div class="c num r" style="right:634.3px"><span class="sx " style="transform:scaleX(0.931);transform-origin:right">$ 1 200,00</span></div>
<div class="c reg gray ctr" style="left:1972px;width:100px">B</div>
<div class="c reg gray" style="left:2157.2px"><span class="sx " style="transform:scaleX(0.931);transform-origin:left">Centro de llamadas</span></div>
<div class="dots"><i></i><i></i><i></i></div>
</div>
<div class="row" style="top:870.40px">
<div class="cb" style="left:17px;top:18px"></div>
<div class="c name" style="left:90px"><span class="sx " style="transform:scaleX(0.867);transform-origin:left">Grupo FineBank Corp.</span></div>
<div class="c reg actual" style="left:459px"><span class="sx " style="transform:scaleX(0.938);transform-origin:left">Actual</span></div>
<div class="c reg gray" style="left:652px"><span class="sx " style="transform:scaleX(0.941);transform-origin:left">Abonado</span></div>
<div class="av" style="left:882px"><svg viewBox="0 0 40 40"><rect width="40" height="40" fill="#d4d6da"/><rect x="28" y="8" width="12" height="22" fill="#9a9ca2" opacity="0.6"/><path d="M11 16 Q10 4 20 4 Q30 4 29 16 Q26 9 20 9 Q14 9 11 16Z" fill="#2a2220"/><ellipse cx="20" cy="19" rx="9" ry="11" fill="#c89888"/><path d="M11 20 Q12 33 20 33 Q28 33 29 20 L28 24 Q20 28 12 24Z" fill="#3a2a22"/><path d="M2 40 Q6 33 14 32 Q20 35 26 32 Q34 33 38 40Z" fill="#1a1a1c"/></svg></div>
<div class="c name" style="left:939px"><span class="sx " style="transform:scaleX(0.878);transform-origin:left">Cody limón</span></div>
<div class="tag vip" style="left:1200px"><span style="transform:scaleX(0.84)">Cliente VIP</span></div>
<div class="c num r" style="right:872px"><span class="sx " style="transform:scaleX(0.931);transform-origin:right">$ 33 315,00</span></div>
<div class="c num r" style="right:634.3px"><span class="sx " style="transform:scaleX(0.931);transform-origin:right">$ 23 400,00</span></div>
<div class="c reg gray ctr" style="left:1972px;width:100px">B</div>
<div class="c reg gray" style="left:2157.2px"><span class="sx " style="transform:scaleX(0.931);transform-origin:left">Centro de llamadas</span></div>
<div class="dots"><i></i><i></i><i></i></div>
</div>
<div class="row" style="top:940.80px">
<div class="cb" style="left:17px;top:18px"></div>
<div class="c name" style="left:90px"><span class="sx " style="transform:scaleX(0.8753);transform-origin:left">Logística de vuelo</span></div>
<div class="c reg actual" style="left:459px"><span class="sx " style="transform:scaleX(0.938);transform-origin:left">Actual</span></div>
<div class="c reg gray" style="left:652px"><span class="sx " style="transform:scaleX(0.941);transform-origin:left">Abonado</span></div>
<div class="av" style="left:882px"><svg viewBox="0 0 40 40"><rect width="40" height="40" fill="#c8d8e2"/><path d="M0 18 Q6 14 12 20 L12 40 H0Z M28 20 Q34 14 40 18 V40 H28Z" fill="#4e9a3a"/><path d="M10 16 Q8 3 20 3 Q32 3 30 16 Q26 10 20 10 Q14 10 10 16Z" fill="#1a1412"/><ellipse cx="20" cy="20" rx="8.5" ry="11" fill="#8a5a40"/><path d="M12 22 Q13 33 20 33 Q27 33 28 22 L27 26 Q20 29 13 26Z" fill="#1a1412"/><path d="M4 40 Q8 33 15 32 Q20 35 25 32 Q32 33 36 40Z" fill="#1a1a1a"/></svg></div>
<div class="c name" style="left:939px"><span class="sx " style="transform:scaleX(0.878);transform-origin:left">Delfín Jerry</span></div>
<div class="tag peq" style="left:1200px"><span style="transform:scaleX(0.84)">Pequeña empresa</span></div>
<div class="c num r" style="right:872px"><span class="sx " style="transform:scaleX(0.931);transform-origin:right">$ 990,00</span></div>
<div class="c num r" style="right:634.3px"><span class="sx " style="transform:scaleX(0.931);transform-origin:right">$ 980,00</span></div>
<div class="c reg gray ctr" style="left:1972px;width:100px">B</div>
<div class="c reg gray" style="left:2157.2px"><span class="sx " style="transform:scaleX(0.935);transform-origin:left">Correo directo</span></div>
<div class="dots"><i></i><i></i><i></i></div>
</div>
<div class="row" style="top:1011.20px">
<div class="cb" style="left:17px;top:18px"></div>
<div class="c name" style="left:90px"><span class="sx " style="transform:scaleX(0.8784);transform-origin:left">Tienda Greenlight</span></div>
<div class="c reg actual" style="left:459px"><span class="sx " style="transform:scaleX(0.938);transform-origin:left">Actual</span></div>
<div class="c reg gray" style="left:652px"><span class="sx " style="transform:scaleX(0.929);transform-origin:left">Proveedor</span></div>
<div class="av" style="left:882px"><svg viewBox="0 0 40 40"><rect width="40" height="40" fill="#8e9096"/><path d="M2 8 Q8 5 12 9 L11 24 Q6 26 2 22Z" fill="#7a9a70" opacity="0.6"/><path d="M0 30 H12 V40 H0Z M31 14 H40 V40 H28Z" fill="#3ab0d0"/><path d="M10 17 Q9 4 21 4 Q33 4 32 17 Q28 9 21 10 Q13 10 10 17Z" fill="#3a2a22"/><ellipse cx="20.5" cy="23" rx="10.5" ry="14.5" fill="#e8a090"/><rect x="11.5" y="18" width="8" height="5" rx="1.5" fill="none" stroke="#3a2a22" stroke-width="1.6"/><rect x="21.5" y="18" width="8" height="5" rx="1.5" fill="none" stroke="#3a2a22" stroke-width="1.6"/><path d="M14 32 Q20.5 37 27 32 Q27 36 20.5 38 Q14 36 14 32Z" fill="#b88870"/></svg></div>
<div class="c name" style="left:939px"><span class="sx " style="transform:scaleX(0.878);transform-origin:left">Marco Ray</span></div>
<div class="tag prov" style="left:1200px"><span style="transform:scaleX(0.84)">Proveedor</span></div>
<div class="c num r" style="right:872px"><span class="sx " style="transform:scaleX(0.931);transform-origin:right">$ 3 226,50</span></div>
<div class="c num r" style="right:634.3px"><span class="sx " style="transform:scaleX(0.931);transform-origin:right">$ 3 400,00</span></div>
<div class="c reg gray ctr" style="left:1972px;width:100px">B</div>
<div class="c reg gray" style="left:2157.2px"><span class="sx " style="transform:scaleX(0.911);transform-origin:left">Referencia</span></div>
<div class="dots"><i></i><i></i><i></i></div>
</div>
<div class="row" style="top:1081.60px">
<div class="cb" style="left:17px;top:18px"></div>
<div class="c name" style="left:90px"><span class="sx " style="transform:scaleX(0.8837);transform-origin:left">Los pasteles de Charlotte</span></div>
<div class="c reg actual" style="left:459px"><span class="sx " style="transform:scaleX(0.938);transform-origin:left">Actual</span></div>
<div class="c reg gray" style="left:652px"><span class="sx " style="transform:scaleX(0.941);transform-origin:left">Abonado</span></div>
<div class="av" style="left:882px"><svg viewBox="0 0 40 40"><rect width="40" height="40" fill="#c8ccd4"/><path d="M0 0 H14 V22 H0Z" fill="#4a8a2a" opacity="0.8"/><path d="M6 36 Q4 10 12 6 Q20 2 28 6 Q36 10 34 36 Q30 36 28 30 L28 16 Q20 12 12 16 L12 30 Q10 36 6 36Z" fill="#5a3a28"/><ellipse cx="20" cy="19" rx="7.5" ry="10" fill="#e8b8a8"/><path d="M16 27 H24 L26 40 H14Z" fill="#e0a898"/><path d="M10 40 Q12 34 16 33 L17 40Z M30 40 Q28 34 25 33 L24 40Z" fill="#f2f2f4"/></svg></div>
<div class="c name" style="left:939px"><span class="sx " style="transform:scaleX(0.87);transform-origin:left">Sara Olson</span></div>
<div class="tag peq" style="left:1200px"><span style="transform:scaleX(0.84)">Pequeña empresa</span></div>
<div class="c num r" style="right:872px"><span class="sx " style="transform:scaleX(0.931);transform-origin:right">$ 890,00</span></div>
<div class="c num r" style="right:634.3px"><span class="sx " style="transform:scaleX(0.931);transform-origin:right">$ 9 700,00</span></div>
<div class="c reg gray ctr" style="left:1972px;width:100px">B</div>
<div class="c reg gray" style="left:2157.2px"><span class="sx " style="transform:scaleX(0.95);transform-origin:left">Contacto propio</span></div>
<div class="dots"><i></i><i></i><i></i></div>
</div>
<div class="row" style="top:1152.00px">
<div class="cb" style="left:17px;top:18px"></div>
<div class="c name" style="left:90px"><span class="sx " style="transform:scaleX(0.875);transform-origin:left">Chinchilla Inc.</span></div>
<div class="c reg actual" style="left:459px"><span class="sx " style="transform:scaleX(0.938);transform-origin:left">Actual</span></div>
<div class="c reg gray" style="left:652px"><span class="sx " style="transform:scaleX(0.941);transform-origin:left">Abonado</span></div>
<div class="av" style="left:882px"><svg viewBox="0 0 40 40"><rect width="40" height="40" fill="#8e9096"/><path d="M2 8 Q8 5 12 9 L11 24 Q6 26 2 22Z" fill="#7a9a70" opacity="0.6"/><path d="M0 30 H12 V40 H0Z M31 14 H40 V40 H28Z" fill="#3ab0d0"/><path d="M10 17 Q9 4 21 4 Q33 4 32 17 Q28 9 21 10 Q13 10 10 17Z" fill="#3a2a22"/><ellipse cx="20.5" cy="23" rx="10.5" ry="14.5" fill="#e8a090"/><rect x="11.5" y="18" width="8" height="5" rx="1.5" fill="none" stroke="#3a2a22" stroke-width="1.6"/><rect x="21.5" y="18" width="8" height="5" rx="1.5" fill="none" stroke="#3a2a22" stroke-width="1.6"/><path d="M14 32 Q20.5 37 27 32 Q27 36 20.5 38 Q14 36 14 32Z" fill="#b88870"/></svg></div>
<div class="c name" style="left:939px"><span class="sx " style="transform:scaleX(0.878);transform-origin:left">Marco Ray</span></div>
<div class="tag peq" style="left:1200px"><span style="transform:scaleX(0.84)">Pequeña empresa</span></div>
<div class="c num r" style="right:872px"><span class="sx " style="transform:scaleX(0.931);transform-origin:right">$ 98 600,00</span></div>
<div class="c num r" style="right:634.3px"><span class="sx " style="transform:scaleX(0.931);transform-origin:right">$ 20 490,00</span></div>
<div class="c reg gray ctr" style="left:1972px;width:100px">A</div>
<div class="c reg gray" style="left:2155.2px"><span class="sx " style="transform:scaleX(0.919);transform-origin:left">Demanda</span></div>
<div class="dots"><i></i><i></i><i></i></div>
</div>
<div class="row" style="top:1222.40px">
<div class="cb" style="left:17px;top:18px"></div>
<div class="c name" style="left:90px"><span class="sx " style="transform:scaleX(0.8855);transform-origin:left">Empresa interesante</span></div>
<div class="c reg actual" style="left:459px"><span class="sx " style="transform:scaleX(0.938);transform-origin:left">Actual</span></div>
<div class="c reg gray" style="left:652px"><span class="sx " style="transform:scaleX(0.941);transform-origin:left">Abonado</span></div>
<div class="av" style="left:882px"><svg viewBox="0 0 40 40"><rect width="40" height="40" fill="#d4d6da"/><rect x="28" y="8" width="12" height="22" fill="#9a9ca2" opacity="0.6"/><path d="M11 16 Q10 4 20 4 Q30 4 29 16 Q26 9 20 9 Q14 9 11 16Z" fill="#2a2220"/><ellipse cx="20" cy="19" rx="9" ry="11" fill="#c89888"/><path d="M11 20 Q12 33 20 33 Q28 33 29 20 L28 24 Q20 28 12 24Z" fill="#3a2a22"/><path d="M2 40 Q6 33 14 32 Q20 35 26 32 Q34 33 38 40Z" fill="#1a1a1c"/></svg></div>
<div class="c name" style="left:939px"><span class="sx " style="transform:scaleX(0.878);transform-origin:left">Cody limón</span></div>
<div class="tag peq" style="left:1200px"><span style="transform:scaleX(0.84)">Pequeña empresa</span></div>
<div class="c num r" style="right:872px"><span class="sx " style="transform:scaleX(0.931);transform-origin:right">$ 1 413,36</span></div>
<div class="c num r" style="right:634.3px"><span class="sx " style="transform:scaleX(0.931);transform-origin:right">$ 0,00</span></div>
<div class="c reg gray ctr" style="left:1972px;width:100px">B</div>
<div class="c reg gray" style="left:2155.2px"><span class="sx " style="transform:scaleX(0.919);transform-origin:left">Demanda</span></div>
<div class="dots"><i></i><i></i><i></i></div>
</div>
<div class="row" style="top:1292.80px">
<div class="cb" style="left:17px;top:18px"></div>
<div class="c name" style="left:90px"><span class="sx " style="transform:scaleX(0.8893);transform-origin:left">Conejo de Jazz, Inc.</span></div>
<div class="c reg actual" style="left:459px"><span class="sx " style="transform:scaleX(0.938);transform-origin:left">Actual</span></div>
<div class="c reg gray" style="left:652px"><span class="sx " style="transform:scaleX(0.941);transform-origin:left">Abonado</span></div>
<div class="av" style="left:882px"><svg viewBox="0 0 40 40"><rect width="40" height="40" fill="#c8d8e2"/><path d="M0 18 Q6 14 12 20 L12 40 H0Z M28 20 Q34 14 40 18 V40 H28Z" fill="#4e9a3a"/><path d="M10 16 Q8 3 20 3 Q32 3 30 16 Q26 10 20 10 Q14 10 10 16Z" fill="#1a1412"/><ellipse cx="20" cy="20" rx="8.5" ry="11" fill="#8a5a40"/><path d="M12 22 Q13 33 20 33 Q27 33 28 22 L27 26 Q20 29 13 26Z" fill="#1a1412"/><path d="M4 40 Q8 33 15 32 Q20 35 25 32 Q32 33 36 40Z" fill="#1a1a1a"/></svg></div>
<div class="c name" style="left:939px"><span class="sx " style="transform:scaleX(0.878);transform-origin:left">Delfín Jerry</span></div>
<div class="tag gran" style="left:1200px"><span style="transform:scaleX(0.84)">Gran potencial</span></div>
<div class="c num r" style="right:872px"><span class="sx " style="transform:scaleX(0.931);transform-origin:right">$ 26 080,00</span></div>
<div class="c num r" style="right:634.3px"><span class="sx " style="transform:scaleX(0.931);transform-origin:right">$ 0,00</span></div>
<div class="c reg gray ctr" style="left:1972px;width:100px">B</div>
<div class="c reg gray" style="left:2157.2px"><span class="sx " style="transform:scaleX(0.95);transform-origin:left">Contacto propio</span></div>
<div class="dots"><i></i><i></i><i></i></div>
</div>
<div class="row" style="top:1363.20px">
<div class="cb" style="left:17px;top:18px"></div>
<div class="c name" style="left:90px"><span class="sx " style="transform:scaleX(0.8842);transform-origin:left">Jeremy Invierno Inc.</span></div>
<div class="c reg actual" style="left:459px"><span class="sx " style="transform:scaleX(0.938);transform-origin:left">Actual</span></div>
<div class="c reg gray" style="left:652px"><span class="sx " style="transform:scaleX(0.929);transform-origin:left">Proveedor</span></div>
<div class="av" style="left:882px"><svg viewBox="0 0 40 40"><rect width="40" height="40" fill="#8e9096"/><path d="M2 8 Q8 5 12 9 L11 24 Q6 26 2 22Z" fill="#7a9a70" opacity="0.6"/><path d="M0 30 H12 V40 H0Z M31 14 H40 V40 H28Z" fill="#3ab0d0"/><path d="M10 17 Q9 4 21 4 Q33 4 32 17 Q28 9 21 10 Q13 10 10 17Z" fill="#3a2a22"/><ellipse cx="20.5" cy="23" rx="10.5" ry="14.5" fill="#e8a090"/><rect x="11.5" y="18" width="8" height="5" rx="1.5" fill="none" stroke="#3a2a22" stroke-width="1.6"/><rect x="21.5" y="18" width="8" height="5" rx="1.5" fill="none" stroke="#3a2a22" stroke-width="1.6"/><path d="M14 32 Q20.5 37 27 32 Q27 36 20.5 38 Q14 36 14 32Z" fill="#b88870"/></svg></div>
<div class="c name" style="left:939px"><span class="sx " style="transform:scaleX(0.878);transform-origin:left">Marco Ray</span></div>
<div class="tag prov" style="left:1200px"><span style="transform:scaleX(0.84)">Proveedor</span></div>
<div class="c num r" style="right:872px"><span class="sx " style="transform:scaleX(0.931);transform-origin:right">$ 5 000,00</span></div>
<div class="c num r" style="right:634.3px"><span class="sx " style="transform:scaleX(0.931);transform-origin:right">$ 850,00</span></div>
<div class="c reg gray ctr" style="left:1972px;width:100px">B</div>
<div class="c reg gray" style="left:2155.2px"><span class="sx " style="transform:scaleX(0.919);transform-origin:left">Demanda</span></div>
<div class="dots"><i></i><i></i><i></i></div>
</div>
<div class="row" style="top:1433.60px">
<div class="cb" style="left:17px;top:18px"></div>
<div class="c name" style="left:90px"><span class="sx " style="transform:scaleX(0.8708);transform-origin:left">Compañía Kover, Ltd.</span></div>
<div class="c reg actual" style="left:459px"><span class="sx " style="transform:scaleX(0.938);transform-origin:left">Actual</span></div>
<div class="c reg gray" style="left:652px"><span class="sx " style="transform:scaleX(0.941);transform-origin:left">Abonado</span></div>
<div class="av" style="left:882px"><svg viewBox="0 0 40 40"><rect width="40" height="40" fill="#eceef2"/><path d="M14 22 Q12 6 20 4 Q30 4 32 14 Q34 24 34 32 Q32 38 28 38 Q28 26 26 16 Q20 12 16 16Z" fill="#3a2420"/><ellipse cx="20" cy="18" rx="7" ry="10" fill="#d8a088"/><path d="M17 26 H25 V40 H17Z" fill="#d8a088"/><path d="M10 40 Q12 32 18 31 L20 40Z" fill="#b8bcc8"/></svg></div>
<div class="c name" style="left:939px"><span class="sx " style="transform:scaleX(0.878);transform-origin:left">Emma Roca</span></div>
<div class="tag vip" style="left:1200px"><span style="transform:scaleX(0.84)">Cliente VIP</span></div>
<div class="c num r" style="right:872px"><span class="sx " style="transform:scaleX(0.931);transform-origin:right">$ 16 672,00</span></div>
<div class="c num r" style="right:634.3px"><span class="sx " style="transform:scaleX(0.931);transform-origin:right">$ 0,00</span></div>
<div class="c reg gray ctr" style="left:1972px;width:100px">B</div>
<div class="c reg gray" style="left:2155.2px"><span class="sx " style="transform:scaleX(0.919);transform-origin:left">Demanda</span></div>
<div class="dots"><i></i><i></i><i></i></div>
</div>
<div class="row" style="top:1504.00px">
<div class="cb" style="left:17px;top:18px"></div>
<div class="c name" style="left:90px"><span class="sx " style="transform:scaleX(0.878);transform-origin:left">Layla Inc.</span></div>
<div class="c reg actual" style="left:459px"><span class="sx " style="transform:scaleX(0.938);transform-origin:left">Actual</span></div>
<div class="c reg gray" style="left:652px"><span class="sx " style="transform:scaleX(0.929);transform-origin:left">Proveedor</span></div>
<div class="av" style="left:882px"><svg viewBox="0 0 40 40"><rect width="40" height="40" fill="#8e9096"/><path d="M2 8 Q8 5 12 9 L11 24 Q6 26 2 22Z" fill="#7a9a70" opacity="0.6"/><path d="M0 30 H12 V40 H0Z M31 14 H40 V40 H28Z" fill="#3ab0d0"/><path d="M10 17 Q9 4 21 4 Q33 4 32 17 Q28 9 21 10 Q13 10 10 17Z" fill="#3a2a22"/><ellipse cx="20.5" cy="23" rx="10.5" ry="14.5" fill="#e8a090"/><rect x="11.5" y="18" width="8" height="5" rx="1.5" fill="none" stroke="#3a2a22" stroke-width="1.6"/><rect x="21.5" y="18" width="8" height="5" rx="1.5" fill="none" stroke="#3a2a22" stroke-width="1.6"/><path d="M14 32 Q20.5 37 27 32 Q27 36 20.5 38 Q14 36 14 32Z" fill="#b88870"/></svg></div>
<div class="c name" style="left:939px"><span class="sx " style="transform:scaleX(0.878);transform-origin:left">Marco Ray</span></div>
<div class="tag prov" style="left:1200px"><span style="transform:scaleX(0.84)">Proveedor</span></div>
<div class="c num r" style="right:872px"><span class="sx " style="transform:scaleX(0.931);transform-origin:right">$ 4 110,00</span></div>
<div class="c num r" style="right:634.3px"><span class="sx " style="transform:scaleX(0.931);transform-origin:right">$ 0,00</span></div>
<div class="c reg gray ctr" style="left:1972px;width:100px">B</div>
<div class="c reg gray" style="left:2157.2px"><span class="sx " style="transform:scaleX(0.935);transform-origin:left">Correo directo</span></div>
<div class="dots"><i></i><i></i><i></i></div>
</div>
<div class="row" style="top:1574.40px">
<div class="cb" style="left:17px;top:18px"></div>
<div class="c name" style="left:90px"><span class="sx " style="transform:scaleX(0.8916);transform-origin:left">Pequeño Marte, Ltd.</span></div>
<div class="c reg actual" style="left:459px"><span class="sx " style="transform:scaleX(0.938);transform-origin:left">Actual</span></div>
<div class="c reg gray" style="left:652px"><span class="sx " style="transform:scaleX(0.941);transform-origin:left">Abonado</span></div>
<div class="av" style="left:882px"><svg viewBox="0 0 40 40"><rect width="40" height="40" fill="#eceef2"/><path d="M14 22 Q12 6 20 4 Q30 4 32 14 Q34 24 34 32 Q32 38 28 38 Q28 26 26 16 Q20 12 16 16Z" fill="#3a2420"/><ellipse cx="20" cy="18" rx="7" ry="10" fill="#d8a088"/><path d="M17 26 H25 V40 H17Z" fill="#d8a088"/><path d="M10 40 Q12 32 18 31 L20 40Z" fill="#b8bcc8"/></svg></div>
<div class="c name" style="left:939px"><span class="sx " style="transform:scaleX(0.878);transform-origin:left">Emma Roca</span></div>
<div class="tag peq" style="left:1200px"><span style="transform:scaleX(0.84)">Pequeña empresa</span></div>
<div class="c num r" style="right:872px"><span class="sx " style="transform:scaleX(0.931);transform-origin:right">$ 32 260,00</span></div>
<div class="c num r" style="right:634.3px"><span class="sx " style="transform:scaleX(0.931);transform-origin:right">$ 0,00</span></div>
<div class="c reg gray ctr" style="left:1972px;width:100px">B</div>
<div class="c reg gray" style="left:2155.2px"><span class="sx " style="transform:scaleX(0.919);transform-origin:left">Demanda</span></div>
<div class="dots"><i></i><i></i><i></i></div>
</div>
<div class="row" style="top:1644.80px">
<div class="cb" style="left:17px;top:18px"></div>
<div class="c name" style="left:90px"><span class="sx " style="transform:scaleX(0.8775);transform-origin:left">Mirar y reparar</span></div>
<div class="c reg actual" style="left:459px"><span class="sx " style="transform:scaleX(0.938);transform-origin:left">Actual</span></div>
<div class="c reg gray" style="left:652px"><span class="sx " style="transform:scaleX(0.941);transform-origin:left">Abonado</span></div>
<div class="av" style="left:882px"><svg viewBox="0 0 40 40"><rect width="40" height="40" fill="#eceef0"/><path d="M12 14 Q12 5 20 5 Q28 5 28 14 Q24 9 20 10 Q15 10 12 14Z" fill="#3a2820"/><ellipse cx="20" cy="18" rx="7.5" ry="10" fill="#e4a898"/><path d="M2 40 Q4 32 14 30 L20 40Z M38 40 Q36 32 26 29 L20 40Z" fill="#2a2e36"/><path d="M14 30 L20 40 L26 29 Q20 27 14 30Z" fill="#f2f2f4"/><path d="M19 31 L21 31 L21 40 L19 40Z" fill="#8a4a3a"/></svg></div>
<div class="c name" style="left:939px"><span class="sx " style="transform:scaleX(0.878);transform-origin:left">Bruce Windham</span></div>
<div class="tag peq" style="left:1200px"><span style="transform:scaleX(0.84)">Pequeña empresa</span></div>
<div class="c num r" style="right:872px"><span class="sx " style="transform:scaleX(0.931);transform-origin:right">$ 19 940,00</span></div>
<div class="c num r" style="right:634.3px"><span class="sx " style="transform:scaleX(0.931);transform-origin:right">$ 0,00</span></div>
<div class="c reg gray ctr" style="left:1972px;width:100px">B</div>
<div class="c reg gray" style="left:2155.2px"><span class="sx " style="transform:scaleX(0.919);transform-origin:left">Demanda</span></div>
<div class="dots"><i></i><i></i><i></i></div>
</div>

<!-- footer -->
<div id="foot" class="a">
  <div class="ft fl" style="top:34px;left:87px;"><span class="sx " style="transform:scaleX(0.865);transform-origin:left">CONTAR</span></div>
  <div class="ft fv" style="top:30.5px;left:200px;"><span class="sx " style="transform:scaleX(0.93);transform-origin:left">42</span></div>
  <div class="ft fl" style="top:34px;left:285px;"><span class="sx " style="transform:scaleX(0.836);transform-origin:left">NEGOCIADO CON EL VALOR DE</span></div>
  <div class="ft fv" style="top:32px;left:643px;"><span class="sx " style="transform:scaleX(0.94);transform-origin:left">$ 139 935</span></div>
  <div class="ft fg" style="top:32px;left:787.4px;">(20)</div>
  <div class="ft fl" style="top:34px;left:893px;"><span class="sx " style="transform:scaleX(0.849);transform-origin:left">VENDIDO POR</span></div>
  <div class="ft fv" style="top:32px;left:1066px;"><span class="sx " style="transform:scaleX(0.925);transform-origin:left">$ 1 992 344</span></div>
  <div class="ft fg" style="top:32px;left:1233px;">(110)</div>
  <div class="ft fg" style="top:32px;left:1777.7px;"><span class="sx " style="transform:scaleX(0.904);transform-origin:left">En la página</span></div>
  <div class="ft fv" style="top:32px;left:1949px;"><span class="sx " style="transform:scaleX(0.82);transform-origin:left">20 Elementos</span></div>
  <svg class="a" style="left:2124px;top:41.5px" width="22" height="18" viewBox="0 0 22 18" fill="none" stroke="#1e2431" stroke-width="3.4"><path d="M2 3 L11 13 L20 3"/></svg>
  <div class="ft fg" style="top:32px;left:2219px;"><span class="sx " style="transform:scaleX(0.867);transform-origin:left">Página</span></div>
  <div class="a" style="left:2319px;top:22.5px;width:77px;height:52px;border:2px solid #e3e6ea;border-radius:5px;background:#fff;font-size:29px;line-height:44px;text-align:right;padding-right:9px;color:#1e2431">1</div>
  <div class="ft fv" style="top:30.5px;left:2414px;"><span class="sx " style="transform:scaleX(0.81);transform-origin:left">de</span></div>
  <div class="ft fv" style="top:30.5px;left:2456px;"><span class="sx " style="transform:scaleX(0.92);transform-origin:left">3</span></div>
  <div class="a" style="left:2511px;top:23px;width:48px;height:48px;border-radius:8px;background:#f7f8f9"><svg class="a" style="left:17px;top:15px" width="14" height="18" viewBox="0 0 14 18" fill="none" stroke="#c4c9d2" stroke-width="2.6"><path d="M11 2 L4 9 L11 16"/></svg></div>
  <div class="a" style="left:2568px;top:23px;width:48px;height:48px;border-radius:8px;background:#f1f2f4"><svg class="a" style="left:17px;top:15px" width="14" height="18" viewBox="0 0 14 18" fill="none" stroke="#5d6679" stroke-width="2.6"><path d="M3 2 L10 9 L3 16"/></svg></div>
</div>
</body></html>
